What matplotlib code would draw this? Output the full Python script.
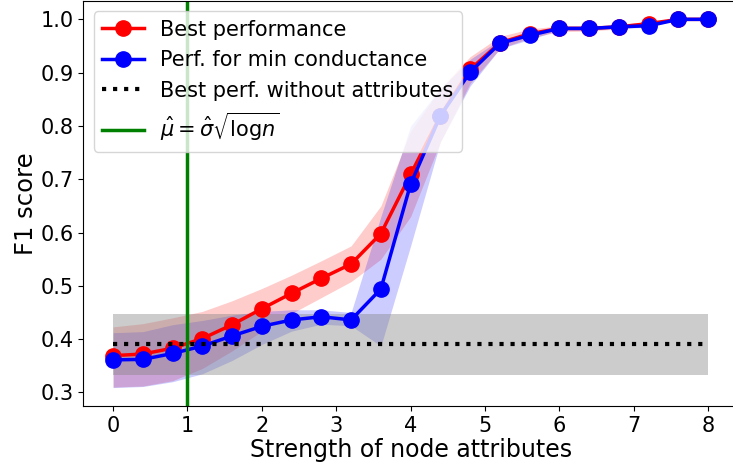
import matplotlib
matplotlib.use("Agg")
import matplotlib.pyplot as plt

# strength of node attributes
x = [0.0, 0.4, 0.8, 1.2, 1.6, 2.0, 2.4, 2.8, 3.2, 3.6, 4.0,
     4.4, 4.8, 5.2, 5.6, 6.0, 6.4, 6.8, 7.2, 7.6, 8.0]

best = [0.369, 0.372, 0.383, 0.401, 0.427, 0.457, 0.486, 0.514, 0.541, 0.598, 0.709,
        0.819, 0.906, 0.956, 0.973, 0.983, 0.983, 0.986, 0.992, 1.0, 1.0]
best_hi = [0.423, 0.429, 0.440, 0.452, 0.472, 0.495, 0.520, 0.547, 0.575, 0.650, 0.790,
           0.870, 0.930, 0.968, 0.982, 0.988, 0.988, 0.990, 0.996, 1.0, 1.0]
best_lo = [0.310, 0.312, 0.322, 0.345, 0.378, 0.415, 0.448, 0.478, 0.508, 0.550, 0.630,
           0.770, 0.880, 0.945, 0.965, 0.977, 0.978, 0.982, 0.988, 1.0, 1.0]

mincond = [0.361, 0.362, 0.373, 0.387, 0.406, 0.424, 0.436, 0.442, 0.436, 0.494, 0.691,
           0.819, 0.901, 0.955, 0.970, 0.983, 0.983, 0.986, 0.988, 1.0, 1.0]
mincond_hi = [0.412, 0.414, 0.427, 0.435, 0.445, 0.452, 0.455, 0.455, 0.450, 0.630, 0.800,
              0.870, 0.925, 0.962, 0.975, 0.986, 0.986, 0.988, 0.990, 1.0, 1.0]
mincond_lo = [0.309, 0.311, 0.320, 0.335, 0.360, 0.390, 0.415, 0.428, 0.425, 0.387, 0.575,
              0.770, 0.875, 0.945, 0.962, 0.980, 0.980, 0.983, 0.985, 1.0, 1.0]

# best performance without attributes: mean and spread
no_attr = 0.39
no_attr_lo = 0.332
no_attr_hi = 0.4465
x_range = [0, 8]

mu_line = 1.0

fig = plt.figure(figsize=(7.33, 4.65), dpi=100)
ax = fig.add_axes([0.1137, 0.1269, 0.893, 0.871])

ax.fill_between(x, best_lo, best_hi, color='red', alpha=0.2, linewidth=0)
ax.fill_between(x, mincond_lo, mincond_hi, color='blue', alpha=0.2, linewidth=0)
ax.fill_between(x_range, [no_attr_lo] * 2, [no_attr_hi] * 2, color='gray', alpha=0.4, linewidth=0)

ax.plot(x, best, '-o', color='red', lw=2.5, markersize=11, label='Best performance')
ax.plot(x, mincond, '-o', color='blue', lw=2.5, markersize=11, label='Perf. for min conductance')
ax.plot(x_range, [no_attr] * 2, ':', color='black', lw=3, label='Best perf. without attributes')
ax.axvline(mu_line, color='green', lw=2.5, label=r'$\hat{\mu} = \hat{\sigma}\sqrt{\mathrm{log}n}$')

ax.set_xlim(-0.4, 8.4)
ax.set_ylim(0.2745, 1.0345)
ax.set_xticks(range(0, 9))
ax.set_yticks([0.3, 0.4, 0.5, 0.6, 0.7, 0.8, 0.9, 1.0])
ax.tick_params(labelsize=15)
ax.set_xlabel('Strength of node attributes', fontsize=17, labelpad=2)
ax.set_ylabel('F1 score', fontsize=17.5, labelpad=2)
ax.legend(loc='upper left', fontsize=15)

fig.savefig('out.png', dpi=100)
